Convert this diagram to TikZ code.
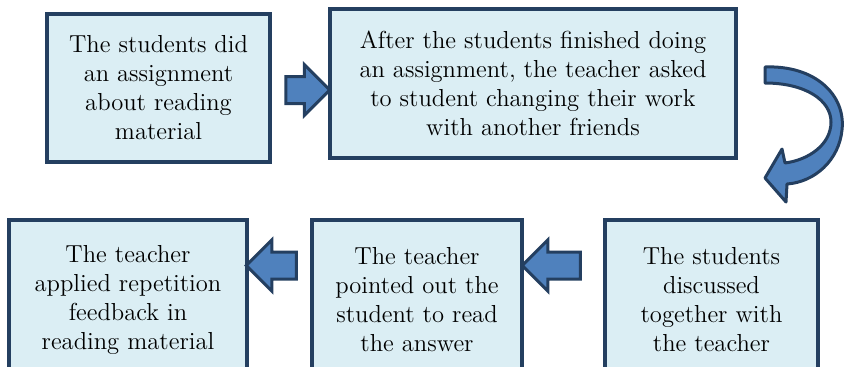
\documentclass[tikz,border=0pt]{standalone}
\usetikzlibrary{arrows.meta, positioning, shapes.arrows}
\definecolor{boxfill}{HTML}{DBEEF4}
\definecolor{boxline}{HTML}{243F60}
\definecolor{arrowfill}{HTML}{4F81BD}

\begin{document}
\begin{tikzpicture}[
x=0.5pt, y=-0.5pt,
box/.style={draw=boxline, fill=boxfill, line width=2pt, align=center, inner sep=0pt, font=\fontsize{12.3}{14.5}\selectfont},
fatarrow/.style={single arrow, draw=boxline, fill=arrowfill, line width=1.5pt, single arrow head extend=6pt, single arrow tip angle=90, inner sep=0pt}
]
\useasboundingbox (0,0) rectangle (845,366);

% top row
\node[box, minimum width=111.5pt, minimum height=74pt] (did) at (158.5,88) {The students did\\an assignment\\about reading\\material};
\node[box, minimum width=203pt, minimum height=74.5pt] (swap) at (533,83.5) {After the students finished doing\\an assignment, the teacher asked\\to student changing their work\\with another friends};

% bottom row, right to left
\node[box, minimum width=106.5pt, minimum height=80pt] (discuss) at (711.5,300) {The students\\discussed\\together with\\the teacher};
\node[box, minimum width=105pt, minimum height=80pt, left=39.5pt of discuss] (point) {The teacher\\pointed out the\\student to read\\the answer};
\node[box, minimum width=119pt, minimum height=80pt, left=30.5pt of point] (repeat) {The teacher\\applied repetition\\feedback in\\reading material};

% block arrows
\node[fatarrow, minimum height=22pt] (ar1) at (301,90) {\rule{0pt}{12pt}};
\node[fatarrow, minimum height=29pt, shape border rotate=180] (ar3) at (558,265.5) {\rule{0pt}{12pt}};
\node[fatarrow, minimum height=25pt, shape border rotate=180] (ar4) at (278,265.5) {\rule{0pt}{12pt}};

% curved arrow from swap down to discuss
\draw[boxline, fill=arrowfill, line width=1.5pt, line join=round]
  (765,67) .. controls (815,65) and (846,95) .. (842,130)
  .. controls (839,160) and (815,182) .. (787,184)
  -- (786,202) -- (765,178) -- (782,149) -- (785,163)
  .. controls (808,160) and (831,145) .. (831,122)
  .. controls (831,100) and (805,83) .. (765,83) -- cycle;

\end{tikzpicture}
\end{document}
